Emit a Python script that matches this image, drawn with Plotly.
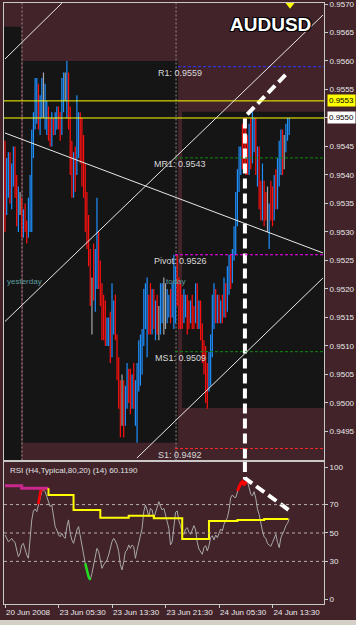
import plotly.graph_objects as go

# ---------------- DATA ----------------
# M15 bars, prices in pips (divide by 10000)
opens = [9544,9533,9537,9543,9536,9540,9544,9537,9532,9535,9535,9530,9533,9531,9529,9531,9531,9545,9549,9550,
         9555,9548,9551,9553,9550,9548,9552,9548,9546,9550,9548,9549,9551,9549,9548,9553,9555,9552,9557,9550,
         9542,9537,9544,9541,9544,9550,9548,9545,9540,9535,9532,9526,9517,9526,9518,9521,9529,9523,9520,9517,
         9516,9511,9511,9514,9509,9513,9518,9511,9507,9503,9500,9503,9497,9500,9505,9504,9500,9506,9497,9495,
         9503,9505,9507,9511,9515,9510,9518,9520,9513,9519,9512,9518,9513,9513,9515,9516,9516,9515,9516,9519,
         9516,9514,9516,9525,9521,9520,9518,9515,9516,9518,9517,9515,9518,9516,9515,9520,9514,9517,9513,9510,
         9508,9506,9503,9504,9509,9514,9519,9515,9518,9515,9518,9516,9520,9517,9520,9525,9522,9526,9527,9533,
         9538,9541,9547,9549,9548,9546,9541,9549,9543,9545,9549,9539,9544,9538,9533,9538,9536,9534,9528,9538,
         9537,9533,9540,9535,9539,9541,9547,9544,9545,9547,9548]
highs = [9546,9543,9544,9544,9542,9545,9545,9540,9538,9537,9536,9534,9535,9532,9536,9540,9548,9551,9557,9557,
         9556,9554,9557,9558,9556,9553,9552,9550,9551,9550,9551,9552,9552,9551,9557,9558,9558,9560,9558,9552,
         9546,9544,9545,9554,9551,9551,9550,9547,9542,9537,9533,9527,9522,9528,9527,9536,9530,9525,9521,9519,
         9518,9515,9515,9516,9521,9518,9519,9512,9508,9504,9505,9504,9503,9507,9506,9506,9505,9507,9504,9507,
         9511,9512,9513,9520,9521,9522,9519,9521,9520,9520,9518,9519,9517,9521,9521,9522,9521,9520,9519,9520,
         9521,9526,9524,9526,9522,9521,9519,9520,9519,9519,9518,9518,9519,9517,9521,9521,9518,9518,9514,9511,
         9510,9507,9509,9512,9519,9521,9520,9519,9519,9518,9519,9522,9521,9524,9526,9526,9527,9531,9537,9541,
         9545,9545,9549,9550,9550,9547,9549,9550,9551,9550,9550,9545,9545,9539,9542,9539,9537,9538,9535,9539,
         9538,9540,9541,9543,9546,9548,9548,9547,9549,9550,9550]
lows = [9530,9533,9536,9535,9534,9538,9536,9531,9530,9533,9529,9529,9530,9528,9529,9530,9530,9543,9548,9549,
        9548,9547,9550,9550,9548,9547,9546,9545,9545,9547,9547,9548,9548,9546,9547,9551,9553,9550,9548,9540,
        9536,9536,9537,9540,9543,9542,9538,9536,9530,9527,9524,9517,9512,9518,9516,9520,9520,9517,9511,9511,
        9510,9510,9510,9507,9508,9512,9511,9504,9499,9494,9496,9494,9496,9499,9500,9498,9499,9499,9496,9493,
        9502,9503,9505,9510,9513,9508,9512,9512,9512,9513,9511,9512,9511,9512,9514,9512,9513,9514,9515,9514,
        9515,9513,9514,9517,9513,9513,9513,9514,9515,9512,9513,9514,9513,9513,9514,9513,9513,9511,9507,9505,
        9500,9499,9502,9503,9508,9513,9514,9514,9514,9514,9514,9515,9515,9516,9519,9520,9521,9525,9526,9531,
        9537,9540,9541,9541,9540,9540,9540,9541,9542,9544,9540,9538,9534,9532,9532,9531,9532,9530,9527,9532,
        9531,9532,9534,9534,9538,9540,9540,9541,9544,9546,9547]
closes = [9532,9541,9543,9536,9541,9544,9537,9532,9537,9535,9531,9533,9531,9529,9535,9539,9547,9550,9556,9555,
          9549,9553,9556,9553,9554,9552,9547,9546,9550,9548,9550,9551,9549,9547,9556,9557,9555,9559,9549,9541,
          9537,9543,9539,9553,9550,9543,9539,9537,9531,9528,9525,9518,9517,9520,9525,9534,9521,9518,9512,9513,
          9512,9514,9514,9508,9519,9517,9512,9505,9500,9495,9500,9496,9502,9506,9501,9499,9504,9500,9503,9506,
          9510,9510,9512,9519,9520,9521,9513,9514,9519,9514,9517,9513,9513,9520,9520,9516,9516,9519,9518,9515,
          9520,9525,9523,9518,9514,9514,9514,9519,9518,9513,9514,9517,9514,9514,9520,9514,9517,9512,9508,9506,
          9501,9500,9508,9511,9518,9520,9515,9518,9515,9517,9515,9521,9516,9523,9525,9521,9526,9530,9536,9540,
          9544,9544,9543,9542,9541,9541,9548,9542,9550,9549,9541,9544,9535,9533,9541,9532,9533,9534,9534,9533,
          9532,9539,9535,9542,9545,9547,9541,9544,9548,9549,9549]

# M15 RSI(14), one value per bar
rsi = [48.6,45.8,43.9,44.8,46.2,44.4,43.4,38.0,33.3,35.7,41.6,42.7,38.0,34.5,32.2,43.9,59.2,65.5,66.9,65.0,
       69.7,74.4,79.1,80.3,79.1,75.6,72.1,68.6,69.7,60.3,54.5,52.1,48.6,47.4,49.8,47.4,46.2,54.5,59.2,49.8,
       45.1,42.7,48.6,52.1,54.5,47.4,42.7,35.7,28.6,23.2,19.2,16.9,21.6,27.5,33.3,39.2,36.9,29.8,25.1,27.5,
       29.8,31.0,34.5,40.4,43.9,46.2,44.4,41.6,36.9,27.5,24.0,29.8,36.9,38.0,41.6,39.2,41.6,40.4,32.2,38.0,
       43.9,48.6,53.3,65.0,69.7,66.2,61.5,67.4,66.2,60.3,63.9,68.6,72.1,68.6,66.2,67.4,61.5,58.0,53.3,41.6,
       43.9,54.5,64.6,65.5,58.5,55.2,50.5,49.1,52.8,53.8,50.5,49.1,52.8,55.2,52.1,43.4,38.7,36.4,35.0,39.7,
       41.1,37.3,41.1,46.7,48.1,45.1,48.6,46.7,50.2,52.8,51.4,56.1,58.5,60.8,66.2,74.9,76.8,75.3,74.9,79.6,
       82.6,85.0,86.2,83.8,85.7,86.6,81.9,77.2,76.3,79.1,74.4,66.9,63.1,56.8,51.4,47.2,46.2,42.5,41.6,40.6,
       43.4,46.7,49.1,43.4,39.7,46.7,49.1,51.9,55.2,56.8,60.1]
rsi_red_idx = [139,140,141,142,143,144,145]
rsi_green_idx = [48,49,50,51]
curl_x = [19.9,20.5,21.3,22.5,24.9]
curl_rsi = [70.2,75.6,79.6,81.0,81.5]

# H4 RSI step line
h4_start = [0,10,26,41,57,74,89,106,122,139,155]
h4_rsi = [83.3,81.5,76.8,66.2,60.8,62.2,60.3,45.8,58.5,59.2,59.9]
h4_end = 169.5

price_ticks = [0.9495,0.9500,0.9505,0.9510,0.9515,0.9520,0.9525,0.9530,0.9535,0.9540,
               0.9545,0.9550,0.9555,0.9560,0.9565,0.9570]
time_tick_bars = [0,32,64,96,128,160]
time_tick_text = ["20 Jun 2008","23 Jun 05:30","23 Jun 13:30","23 Jun 21:30","24 Jun 05:30","24 Jun 13:30"]

pivots = [("R1", 0.9559, "#2b3cff", 103.5), ("MR1", 0.9543, "#0f8a0f", 101.7),
          ("Pivot", 0.9526, "#ff00ff", 101.7), ("MS1", 0.9509, "#0f8a0f", 101.7),
          ("S1", 0.9492, "#ff2a2a", 101.7)]
hlines_yellow = [0.9553, 0.9550]

# day boxes: (x0, x1, low, high)
day_boxes = [(-1, 9.6, 0.9485, 0.9566), (10.8, 103.5, 0.94930, 0.9560), (105.9, 195, 0.94991, 0.95511)]
day_separators = [10.2, 102.3]

# trend lines: (x0, p0, x1, p1)
trend_lines = [(0, 0.956035, 34.1, 0.957018),
               (0, 0.951430, 190.2, 0.956807),
               (78.9, 0.949035, 190.2, 0.952193),
               (0, 0.954737, 190.2, 0.952632)]
# hand-drawn dashed arrow
arrow_main_x = [143.5, 143.5, 169.5]
arrow_main_p = [0.9485, 0.95502, 0.95581]
arrow_rsi_x = [143.5, 143.5, 170.5]
arrow_rsi_v = [100, 88.7, 65.5]

# ---------------- FIGURE ----------------
BG = "#42232a"
DARK = "#151515"
FONT = "Liberation Sans, Arial, sans-serif"
XR = [-0.6, 190.8]
Y_MAIN = [0.948991, 0.9570175]

fig = go.Figure()

for b in day_boxes:
    fig.add_shape(type="rect", xref="x", yref="y", x0=b[0], x1=b[1], y0=b[2], y1=b[3],
                  fillcolor=DARK, line_width=0, layer="below")
for s in day_separators:
    fig.add_shape(type="line", xref="x", yref="y", x0=s, x1=s, y0=Y_MAIN[0], y1=Y_MAIN[1],
                  line=dict(color="#9a8a8a", width=1, dash="2px,2px"), layer="below")

# bars
groups = {"up": ([], []), "dn": ([], []), "fl": ([], [])}
for i in range(len(closes)):
    k = "up" if closes[i] > opens[i] else ("dn" if closes[i] < opens[i] else "fl")
    groups[k][0].extend([i, i, None])
    groups[k][1].extend([lows[i] / 10000, highs[i] / 10000, None])
colors = {"up": "#1e90ff", "dn": "#ff1010", "fl": "#a8a8a8"}
for k, (xs, ys) in groups.items():
    fig.add_trace(go.Scatter(x=xs, y=ys, mode="lines", line=dict(color=colors[k], width=1.2),
                             xaxis="x", yaxis="y", hoverinfo="skip", showlegend=False))

for p in hlines_yellow:
    fig.add_shape(type="line", xref="x", yref="y", x0=XR[0], x1=XR[1], y0=p, y1=p,
                  line=dict(color="#ffff00", width=1))
for name, p, c, x0 in pivots:
    fig.add_shape(type="line", xref="x", yref="y", x0=x0, x1=XR[1], y0=p, y1=p,
                  line=dict(color=c, width=1, dash="3px,2px"))
    fig.add_annotation(x=104.7, y=p, xref="x", yref="y", text=f"{name}: {p:.4f}", showarrow=False,
                       xanchor="center", yanchor="middle", yshift=-6,
                       font=dict(family=FONT, size=9, color="#d8d8d8"))

for (x0, p0, x1, p1) in trend_lines:
    fig.add_shape(type="line", xref="x", yref="y", x0=x0, y0=p0, x1=x1, y1=p1,
                  line=dict(color="#e8e8e8", width=1))

for txt, xi in [("yesterday", 0), ("today", 95.1)]:
    fig.add_annotation(x=xi, y=0.952123, xref="x", yref="y", text=txt, showarrow=False,
                       xanchor="left", yanchor="middle", font=dict(family=FONT, size=8, color="#5f9ea0"))

fig.add_trace(go.Scatter(x=arrow_main_x, y=arrow_main_p, mode="lines",
                         line=dict(color="white", width=4, dash="10px,5px"),
                         xaxis="x", yaxis="y", hoverinfo="skip", showlegend=False))
fig.add_trace(go.Scatter(x=[170.5], y=[0.956985], mode="markers", cliponaxis=False,
                         marker=dict(symbol="triangle-down", size=8, color="#ffff00"),
                         xaxis="x", yaxis="y", hoverinfo="skip", showlegend=False))

# RSI panel
for lv in [70, 50, 30]:
    fig.add_shape(type="line", xref="x2", yref="y2", x0=XR[0], x1=XR[1], y0=lv, y1=lv,
                  line=dict(color="#b8b0b0", width=1, dash="3px,3px"))

fig.add_trace(go.Scatter(x=list(range(len(rsi))), y=rsi, mode="lines",
                         line=dict(color="#a8a8a8", width=1), xaxis="x2", yaxis="y2",
                         hoverinfo="skip", showlegend=False))
fig.add_trace(go.Scatter(x=rsi_red_idx, y=[rsi[i] for i in rsi_red_idx], mode="lines",
                         line=dict(color="#ff0000", width=3), xaxis="x2", yaxis="y2",
                         hoverinfo="skip", showlegend=False))
fig.add_trace(go.Scatter(x=curl_x, y=curl_rsi, mode="lines",
                         line=dict(color="#ff0000", width=2.5), xaxis="x2", yaxis="y2",
                         hoverinfo="skip", showlegend=False))
fig.add_trace(go.Scatter(x=rsi_green_idx, y=[rsi[i] for i in rsi_green_idx], mode="lines",
                         line=dict(color="#22dd22", width=2.5), xaxis="x2", yaxis="y2",
                         hoverinfo="skip", showlegend=False))

fig.add_trace(go.Scatter(x=h4_start[:2] + [h4_start[2]], y=h4_rsi[:2] + [h4_rsi[1]], mode="lines",
                         line=dict(color="#c8288c", width=3, shape="hv"), xaxis="x2", yaxis="y2",
                         hoverinfo="skip", showlegend=False))
fig.add_trace(go.Scatter(x=[h4_start[2]] + h4_start[2:] + [h4_end],
                         y=[h4_rsi[1]] + h4_rsi[2:] + [h4_rsi[-1]], mode="lines",
                         line=dict(color="#ffff00", width=2, shape="hv"), xaxis="x2", yaxis="y2",
                         hoverinfo="skip", showlegend=False))

fig.add_trace(go.Scatter(x=arrow_rsi_x, y=arrow_rsi_v, mode="lines",
                         line=dict(color="white", width=4, dash="10px,5px"),
                         xaxis="x2", yaxis="y2", hoverinfo="skip", showlegend=False))

# labels
fig.add_annotation(x=0.8313, y=0.9634, xref="paper", yref="paper", text="<b>AUDUSD</b>", showarrow=False,
                   xanchor="center", yanchor="middle",
                   font=dict(family=FONT, size=19, color="white",
                             shadow="-1px -1px 0 #000, 1px -1px 0 #000, -1px 1px 0 #000, 1px 1px 0 #000"))
fig.add_annotation(x=0.0125, y=0.2221, xref="paper", yref="paper", xanchor="left", yanchor="middle",
                   text="RSI (H4,Typical,80,20) (14) 60.1190", showarrow=False,
                   font=dict(family=FONT, size=8, color="#e0e0e0"))
for p, bg in [(0.9553, "#ffff00"), (0.9550, "#ffffff")]:
    fig.add_annotation(x=1, y=p, xref="paper", yref="y", xanchor="left", yanchor="middle", xshift=3,
                       text=f"{p:.4f}", showarrow=False, bgcolor=bg, borderpad=1,
                       font=dict(family=FONT, size=8, color="black"))

axis_common = dict(showgrid=False, zeroline=False, showline=True, mirror=True,
                   linecolor="#c8c8c8", linewidth=1, tickcolor="#c8c8c8", automargin=False,
                   ticklabeloverflow="allow",
                   tickfont=dict(family=FONT, size=8, color="#e8e8e8"))

fig.update_layout(
    width=356, height=625, margin=dict(l=4, r=32, t=3, b=21, autoexpand=False),
    paper_bgcolor=BG, plot_bgcolor=BG, showlegend=False,
    xaxis=dict(domain=[0, 1], range=XR, anchor="y", showticklabels=False, ticks="", **axis_common),
    yaxis=dict(domain=[0.2388, 1], range=Y_MAIN, side="right", anchor="x",
               tickvals=price_ticks, ticktext=[f"{v:.4f}" for v in price_ticks],
               ticks="outside", ticklen=3, **axis_common),
    xaxis2=dict(domain=[0, 1], range=XR, anchor="y2", matches="x", tickangle=0,
                tickvals=time_tick_bars, ticktext=time_tick_text, ticks="outside", ticklen=3,
                ticklabelposition="outside right", **axis_common),
    yaxis2=dict(domain=[0, 0.2363], range=[0, 100], side="right", anchor="x2",
                tickvals=[96, 70, 50, 30, 3.5], ticktext=["100", "70", "50", "30", "0"],
                ticks="outside", ticklen=3, **axis_common),
)
# window frame strip at bottom
fig.add_shape(type="rect", xref="paper", yref="paper", x0=-0.02, x1=1.11, y0=-0.0266, y1=-0.04,
              fillcolor="#d4d0c8", line_width=0)

fig.write_html("out.html")
